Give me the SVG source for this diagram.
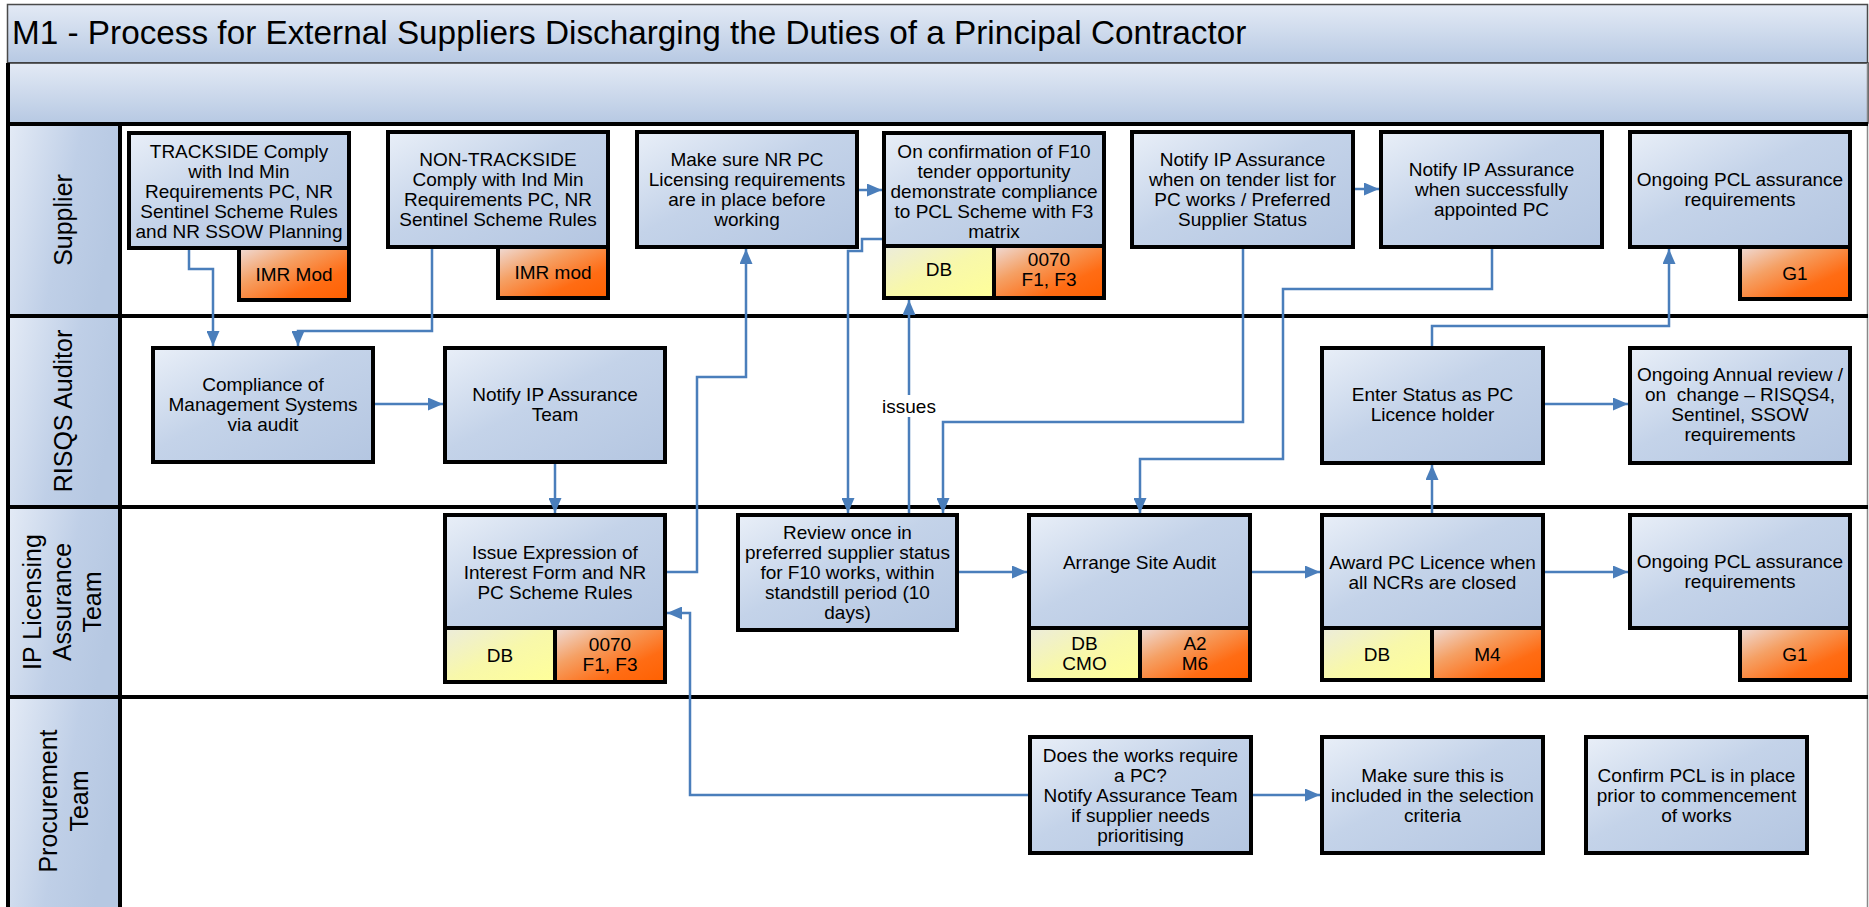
<svg xmlns="http://www.w3.org/2000/svg" width="1869" height="907" viewBox="0 0 1869 907">
<defs>
<linearGradient id="gBand" x1="0" y1="0" x2="0" y2="1">
<stop offset="0" stop-color="#e3eaf5"/><stop offset="1" stop-color="#b7c9e3"/>
</linearGradient>
<linearGradient id="gLane" x1="0" y1="0" x2="1" y2="0.35">
<stop offset="0" stop-color="#e4ebf6"/><stop offset="0.6" stop-color="#bfcfe7"/><stop offset="1" stop-color="#b6c8e2"/>
</linearGradient>
<linearGradient id="gNode" x1="0" y1="0" x2="1" y2="1">
<stop offset="0" stop-color="#e9eff8"/><stop offset="0.45" stop-color="#c4d3e9"/><stop offset="1" stop-color="#b4c6e1"/>
</linearGradient>
<linearGradient id="gOrange" x1="0" y1="0" x2="1" y2="1">
<stop offset="0" stop-color="#efdcd8"/><stop offset="0.35" stop-color="#f5a064"/><stop offset="0.7" stop-color="#ff6c14"/><stop offset="1" stop-color="#ff6000"/>
</linearGradient>
<linearGradient id="gYellow" x1="0" y1="0" x2="1" y2="1">
<stop offset="0" stop-color="#ececdc"/><stop offset="0.5" stop-color="#f8f8aa"/><stop offset="1" stop-color="#ffff99"/>
</linearGradient>
<marker id="arr" viewBox="0 0 10 10" refX="10" refY="5" markerWidth="15" markerHeight="13" markerUnits="userSpaceOnUse" orient="auto" preserveAspectRatio="none">
<path d="M0,0 L10,5 L0,10 z" fill="#4a7ebb"/>
</marker>
<style>
.box{fill:url(#gNode);stroke:#000;stroke-width:4}
.tagO{fill:url(#gOrange);stroke:#000;stroke-width:4}
.tagY{fill:url(#gYellow);stroke:#000;stroke-width:4}
.t{font-family:"Liberation Sans",Arial,sans-serif;font-size:19px;fill:#000;text-anchor:middle}
.lane{font-family:"Liberation Sans",Arial,sans-serif;font-size:25px;fill:#000;text-anchor:middle}
.title{font-family:"Liberation Sans",Arial,sans-serif;font-size:33.3px;fill:#000}
.c{fill:none;stroke:#4a7ebb;stroke-width:2.5;marker-end:url(#arr)}
.div{stroke:#000;stroke-width:4}
</style>
</defs>
<rect x="0" y="0" width="1869" height="907" fill="#fff"/>
<g id="frame">
<rect x="7.5" y="4.5" width="1860" height="58.5" fill="url(#gBand)" stroke="#4a4a4a" stroke-width="1.5"/>
<text class="title" x="12" y="44">M1 - Process for External Suppliers Discharging the Duties of a Principal Contractor</text>
<rect x="8" y="63" width="1860" height="60" fill="url(#gBand)" stroke="#333" stroke-width="1.5"/>
<rect x="8" y="124" width="112" height="192" fill="url(#gLane)"/>
<rect x="8" y="316" width="112" height="191" fill="url(#gLane)"/>
<rect x="8" y="507" width="112" height="190" fill="url(#gLane)"/>
<rect x="8" y="697" width="112" height="210" fill="url(#gLane)"/>
<line x1="1867.5" y1="63" x2="1867.5" y2="907" stroke="#888" stroke-width="1.5"/>
<line class="div" x1="8" y1="124" x2="1868" y2="124"/>
<line class="div" x1="8" y1="316" x2="1868" y2="316"/>
<line class="div" x1="8" y1="507" x2="1868" y2="507"/>
<line class="div" x1="8" y1="697" x2="1868" y2="697"/>
<line class="div" x1="120" y1="122" x2="120" y2="907"/>
<line class="div" x1="8" y1="63" x2="8" y2="907"/>
</g>
<g id="lane-labels">
<text class="lane" transform="translate(72,220) rotate(-90)">Supplier</text>
<text class="lane" transform="translate(72,411) rotate(-90)">RISQS Auditor</text>
<text class="lane" transform="translate(41,602) rotate(-90)">IP Licensing</text>
<text class="lane" transform="translate(71,602) rotate(-90)">Assurance</text>
<text class="lane" transform="translate(101,602) rotate(-90)">Team</text>
<text class="lane" transform="translate(57,801) rotate(-90)">Procurement</text>
<text class="lane" transform="translate(88,801) rotate(-90)">Team</text>
</g>
<g id="n1">
<rect class="box" x="129" y="133" width="220" height="115"/>
<rect class="tagO" x="239" y="248" width="110" height="52"/>
<text class="t" x="239" y="158">TRACKSIDE Comply<tspan x="239" dy="20">with Ind Min</tspan><tspan x="239" dy="20">Requirements PC, NR</tspan><tspan x="239" dy="20">Sentinel Scheme Rules</tspan><tspan x="239" dy="20">and NR SSOW Planning</tspan></text>
<text class="t" x="294" y="281">IMR Mod</text>
</g>
<g id="n2">
<rect class="box" x="388" y="132" width="220" height="115"/>
<rect class="tagO" x="498" y="247" width="110" height="51"/>
<text class="t" x="498" y="166">NON-TRACKSIDE<tspan x="498" dy="20">Comply with Ind Min</tspan><tspan x="498" dy="20">Requirements PC, NR</tspan><tspan x="498" dy="20">Sentinel Scheme Rules</tspan></text>
<text class="t" x="553" y="279">IMR mod</text>
</g>
<g id="n3">
<rect class="box" x="637" y="132" width="220" height="115"/>
<text class="t" x="747" y="166">Make sure NR PC<tspan x="747" dy="20">Licensing requirements</tspan><tspan x="747" dy="20">are in place before</tspan><tspan x="747" dy="20">working</tspan></text>
</g>
<g id="n4">
<rect class="box" x="884" y="133" width="220" height="113"/>
<rect class="tagY" x="884" y="246" width="110" height="52"/>
<rect class="tagO" x="994" y="246" width="110" height="52"/>
<text class="t" x="994" y="158">On confirmation of F10<tspan x="994" dy="20">tender opportunity</tspan><tspan x="994" dy="20">demonstrate compliance</tspan><tspan x="994" dy="20">to PCL Scheme with F3</tspan><tspan x="994" dy="20">matrix</tspan></text>
<text class="t" x="939" y="276">DB</text>
<text class="t" x="1049" y="266">0070<tspan x="1049" dy="20">F1, F3</tspan></text>
</g>
<g id="n5">
<rect class="box" x="1132" y="132" width="221" height="115"/>
<text class="t" x="1242.5" y="166">Notify IP Assurance<tspan x="1242.5" dy="20">when on tender list for</tspan><tspan x="1242.5" dy="20">PC works / Preferred</tspan><tspan x="1242.5" dy="20">Supplier Status</tspan></text>
</g>
<g id="n6">
<rect class="box" x="1381" y="132" width="221" height="115"/>
<text class="t" x="1491.5" y="176">Notify IP Assurance<tspan x="1491.5" dy="20">when successfully</tspan><tspan x="1491.5" dy="20">appointed PC</tspan></text>
</g>
<g id="n7">
<rect class="box" x="1630" y="132" width="220" height="115"/>
<rect class="tagO" x="1740" y="247" width="110" height="52"/>
<text class="t" x="1740" y="186">Ongoing PCL assurance<tspan x="1740" dy="20">requirements</tspan></text>
<text class="t" x="1795" y="280">G1</text>
</g>
<g id="n8">
<rect class="box" x="153" y="348" width="220" height="114"/>
<text class="t" x="263" y="391">Compliance of<tspan x="263" dy="20">Management Systems</tspan><tspan x="263" dy="20">via audit</tspan></text>
</g>
<g id="n9">
<rect class="box" x="445" y="348" width="220" height="114"/>
<text class="t" x="555" y="401">Notify IP Assurance<tspan x="555" dy="20">Team</tspan></text>
</g>
<g id="n10">
<rect class="box" x="1322" y="348" width="221" height="115"/>
<text class="t" x="1432.5" y="401">Enter Status as PC<tspan x="1432.5" dy="20">Licence holder</tspan></text>
</g>
<g id="n11">
<rect class="box" x="1630" y="348" width="220" height="115"/>
<text class="t" x="1740" y="381">Ongoing Annual review /<tspan x="1740" dy="20">on&#160; change – RISQS4,</tspan><tspan x="1740" dy="20">Sentinel, SSOW</tspan><tspan x="1740" dy="20">requirements</tspan></text>
</g>
<g id="n12">
<rect class="box" x="445" y="515" width="220" height="113"/>
<rect class="tagY" x="445" y="628" width="110" height="54"/>
<rect class="tagO" x="555" y="628" width="110" height="54"/>
<text class="t" x="555" y="559">Issue Expression of<tspan x="555" dy="20">Interest Form and NR</tspan><tspan x="555" dy="20">PC Scheme Rules</tspan></text>
<text class="t" x="500" y="662">DB</text>
<text class="t" x="610" y="651">0070<tspan x="610" dy="20">F1, F3</tspan></text>
</g>
<g id="n13">
<rect class="box" x="738" y="515" width="219" height="115"/>
<text class="t" x="847.5" y="539">Review once in<tspan x="847.5" dy="20">preferred supplier status</tspan><tspan x="847.5" dy="20">for F10 works, within</tspan><tspan x="847.5" dy="20">standstill period (10</tspan><tspan x="847.5" dy="20">days)</tspan></text>
</g>
<g id="n14">
<rect class="box" x="1029" y="515" width="221" height="113"/>
<rect class="tagY" x="1029" y="628" width="111" height="52"/>
<rect class="tagO" x="1140" y="628" width="110" height="52"/>
<text class="t" x="1139.5" y="569">Arrange Site Audit</text>
<text class="t" x="1084.5" y="650">DB<tspan x="1084.5" dy="20">CMO</tspan></text>
<text class="t" x="1195" y="650">A2<tspan x="1195" dy="20">M6</tspan></text>
</g>
<g id="n15">
<rect class="box" x="1322" y="515" width="221" height="113"/>
<rect class="tagY" x="1322" y="628" width="110" height="52"/>
<rect class="tagO" x="1432" y="628" width="111" height="52"/>
<text class="t" x="1432.5" y="569">Award PC Licence when<tspan x="1432.5" dy="20">all NCRs are closed</tspan></text>
<text class="t" x="1377" y="661">DB</text>
<text class="t" x="1487.5" y="661">M4</text>
</g>
<g id="n16">
<rect class="box" x="1630" y="515" width="220" height="113"/>
<rect class="tagO" x="1740" y="628" width="110" height="52"/>
<text class="t" x="1740" y="568">Ongoing PCL assurance<tspan x="1740" dy="20">requirements</tspan></text>
<text class="t" x="1795" y="661">G1</text>
</g>
<g id="n17">
<rect class="box" x="1030" y="737" width="221" height="116"/>
<text class="t" x="1140.5" y="762">Does the works require<tspan x="1140.5" dy="20">a PC?</tspan><tspan x="1140.5" dy="20">Notify Assurance Team</tspan><tspan x="1140.5" dy="20">if supplier needs</tspan><tspan x="1140.5" dy="20">prioritising</tspan></text>
</g>
<g id="n18">
<rect class="box" x="1322" y="737" width="221" height="116"/>
<text class="t" x="1432.5" y="782">Make sure this is<tspan x="1432.5" dy="20">included in the selection</tspan><tspan x="1432.5" dy="20">criteria</tspan></text>
</g>
<g id="n19">
<rect class="box" x="1586" y="737" width="221" height="116"/>
<text class="t" x="1696.5" y="782">Confirm PCL is in place<tspan x="1696.5" dy="20">prior to commencement</tspan><tspan x="1696.5" dy="20">of works</tspan></text>
</g>
<g id="connectors">
<path class="c" d="M189,250 V269 H213 V346"/>
<path class="c" d="M432,249 V331 H298 V346"/>
<path class="c" d="M375,404 H443"/>
<path class="c" d="M555,464 V513"/>
<path class="c" d="M667,572 H697 V377 H746 V249"/>
<path class="c" d="M859,190 H882"/>
<path class="c" d="M882,239 H862 V251 H848 V513"/>
<path class="c" d="M909,513 V300"/>
<rect x="880" y="395" width="58" height="22" fill="#fff"/>
<text class="t" x="909" y="413">issues</text>
<path class="c" d="M1243,249 V422 H943 V513"/>
<path class="c" d="M1355,189 H1379"/>
<path class="c" d="M1492,249 V289 H1283 V459 H1140 V513"/>
<path class="c" d="M959,572 H1027"/>
<path class="c" d="M1252,572 H1320"/>
<path class="c" d="M1432,513 V465"/>
<path class="c" d="M1545,404 H1628"/>
<path class="c" d="M1432,346 V326 H1669 V249"/>
<path class="c" d="M1545,572 H1628"/>
<path class="c" d="M1028,795 H690 V613 H667"/>
<path class="c" d="M1253,795 H1320"/>
</g>
</svg>
